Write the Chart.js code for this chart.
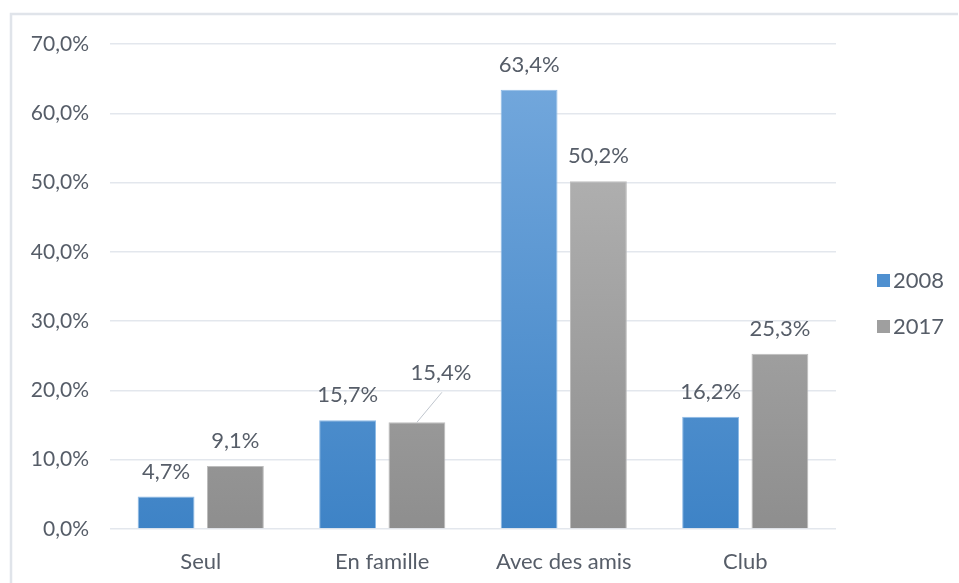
<!DOCTYPE html>
<html lang="fr">
<head>
<meta charset="utf-8">
<title>2008 / 2017</title>
<script src="https://cdn.jsdelivr.net/npm/chart.js@4.4.1/dist/chart.umd.min.js"></script>
<style>
  html, body { margin: 0; padding: 0; background: #fff; }
  #wrap { position: relative; width: 959px; height: 583px; }
</style>
</head>
<body>
<div id="wrap"><canvas id="chart" width="959" height="583"></canvas></div>
<script>
  // Data
  const categories = ['Seul', 'En famille', 'Avec des amis', 'Club'];
  const seriesNames = ['2008', '2017'];
  const values2008 = [4.7, 15.7, 63.4, 16.2];
  const values2017 = [9.1, 15.4, 50.2, 25.3];
  const yTicks = [0, 10, 20, 30, 40, 50, 60, 70];

  const TEXT = '#565d68';
  const FONT = 'Lato, "Open Sans", sans-serif';

  function fmt(v) {
    return v.toFixed(1).replace('.', ',') + '%';
  }

  // vertical gradients like the Excel fill
  function blueFill(ctx) {
    const area = ctx.chart.chartArea;
    if (!area) return '#5b9bd5';
    const g = ctx.chart.ctx.createLinearGradient(0, area.top + 40, 0, area.bottom);
    g.addColorStop(0, '#72a7dc');
    g.addColorStop(1, '#3e83c6');
    return g;
  }
  function grayFill(ctx) {
    const area = ctx.chart.chartArea;
    if (!area) return '#a5a5a5';
    const g = ctx.chart.ctx.createLinearGradient(0, area.top + 130, 0, area.bottom);
    g.addColorStop(0, '#afafaf');
    g.addColorStop(1, '#8e8e8e');
    return g;
  }

  // label offset for the one moved label (dataset, index) -> dx, dy
  const labelOffsets = { '1-1': { dx: 24, dy: -24 } };

  const labelPlugin = {
    id: 'barLabels',
    afterDatasetsDraw(chart) {
      const c = chart.ctx;
      c.save();
      c.font = '22px ' + FONT;
      c.fillStyle = TEXT;
      c.textAlign = 'center';
      c.textBaseline = 'middle';
      chart.data.datasets.forEach((ds, di) => {
        chart.getDatasetMeta(di).data.forEach((bar, i) => {
          const off = labelOffsets[di + '-' + i];
          let x = bar.x, y = bar.y - 25;
          if (off) {
            x += off.dx; y += off.dy;
            c.strokeStyle = '#bfc5cd';
            c.lineWidth = 1;
            c.beginPath();
            c.moveTo(bar.x, bar.y);
            c.lineTo(x + 1, y + 19);
            c.stroke();
          }
          c.fillText(fmt(ds.data[i]), x, y);
        });
      });
      c.restore();
    }
  };

  const framePlugin = {
    id: 'frame',
    beforeDraw(chart) {
      const c = chart.ctx;
      c.save();
      c.strokeStyle = '#e0e4ea';
      c.lineWidth = 2.5;
      c.beginPath();
      c.moveTo(11, 600);
      c.lineTo(11, 14);
      c.lineTo(958, 14);
      c.stroke();
      c.restore();
    }
  };

  const legendPlugin = {
    id: 'sideLegend',
    afterDraw(chart) {
      const c = chart.ctx;
      const fills = ['#4f90d0', '#9f9f9f'];
      const ys = [280, 326];
      c.save();
      c.font = '22px ' + FONT;
      c.textAlign = 'left';
      c.textBaseline = 'middle';
      chart.data.datasets.forEach((ds, i) => {
        c.fillStyle = fills[i];
        c.fillRect(877, ys[i] - 6, 13, 13);
        c.fillStyle = TEXT;
        c.fillText(ds.label, 893, ys[i] + 1);
      });
      c.restore();
    }
  };

  new Chart(document.getElementById('chart'), {
    type: 'bar',
    data: {
      labels: categories,
      datasets: [
        { label: seriesNames[0], data: values2008, backgroundColor: blueFill,
          borderColor: '#8fbbe6', borderWidth: 1 },
        { label: seriesNames[1], data: values2017, backgroundColor: grayFill,
          borderColor: '#bdbdbd', borderWidth: 1 }
      ]
    },
    options: {
      responsive: false,
      animation: false,
      layout: { padding: { top: 44, right: 123, bottom: 0, left: 0 } },
      datasets: { bar: { categoryPercentage: 0.764, barPercentage: 0.82 } },
      plugins: {
        legend: { display: false },
        tooltip: { enabled: false }
      },
      scales: {
        x: {
          grid: { display: false },
          border: { display: false },
          ticks: { color: TEXT, font: { family: FONT, size: 22 }, padding: 12 },
          afterFit(scale) { scale.height = 54; }
        },
        y: {
          min: 0,
          max: 70,
          afterBuildTicks(scale) { scale.ticks = yTicks.map(v => ({ value: v })); },
          grid: { color: '#e3e7ed', lineWidth: 1.5, drawTicks: false },
          border: { display: false },
          ticks: {
            color: TEXT,
            font: { family: FONT, size: 21 },
            padding: 21,
            callback: v => fmt(v)
          },
          afterFit(scale) { scale.width = 110; }
        }
      }
    },
    plugins: [framePlugin, labelPlugin, legendPlugin]
  });
</script>
</body>
</html>
